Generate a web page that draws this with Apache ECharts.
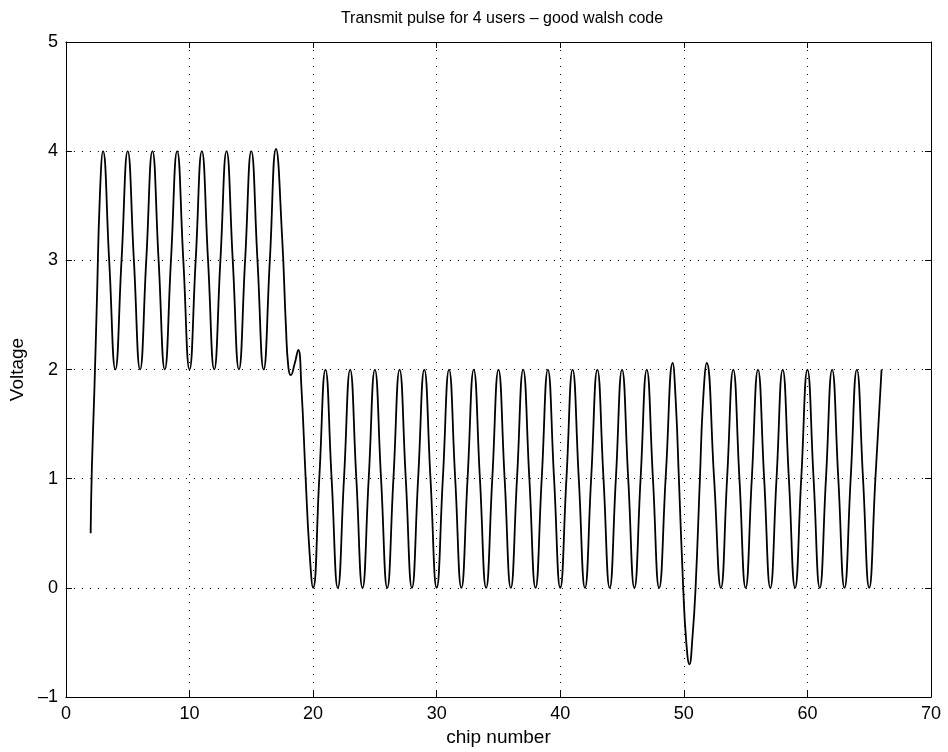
<!DOCTYPE html>
<html>
<head>
<meta charset="utf-8">
<script src="https://cdn.jsdelivr.net/npm/echarts@6/dist/echarts.min.js"></script>
<style>html,body{margin:0;padding:0;background:#fff;}#chart{width:948px;height:752px;}</style>
</head>
<body>
<div id="chart"></div>
<script>
var titleText = 'Transmit pulse for 4 users \u2013 good walsh code';
var xAxisName = 'chip number';
var yAxisName = 'Voltage';
var xTicks = [0, 10, 20, 30, 40, 50, 60, 70];
var yTicks = [-1, 0, 1, 2, 3, 4, 5];

var chipNumber = [
  2, 2.1, 2.3, 2.5, 2.75,
  3, 3.5, 4, 4.5, 5, 5.5, 6, 6.5, 7, 7.5, 8, 8.5, 9, 9.5, 10, 10.5, 11, 11.5, 12, 12.5, 13, 13.5, 14, 14.5, 15, 15.5, 16, 16.5, 17,
  17.5, 17.8, 18, 18.2, 18.5, 18.8, 19.05, 19.4, 19.7,
  20, 20.5, 21, 21.5, 22, 22.5, 23, 23.5, 24, 24.5, 25, 25.5, 26, 26.5, 27, 27.5, 28, 28.5, 29, 29.5, 30, 30.5, 31, 31.5, 32, 32.5, 33, 33.5, 34, 34.5, 35, 35.5, 36, 36.5, 37, 37.5, 38, 38.5, 39, 39.5, 40, 40.5, 41, 41.5, 42, 42.5, 43, 43.5, 44, 44.5, 45, 45.5, 46, 46.5, 47, 47.5, 48,
  48.55, 49.1, 49.35, 49.6, 49.95, 50.2, 50.45, 50.7, 50.95, 51.3, 51.55, 51.85,
  52.45, 53, 53.5, 54, 54.5, 55, 55.5, 56, 56.5, 57, 57.5, 58, 58.5, 59, 59.5, 60, 60.5, 61, 61.5, 62, 62.5, 63, 63.5, 64, 64.5, 65, 65.5, 66
];
var voltage = [
  0.5, 1.1, 1.8, 2.6, 3.6,
  4, 3, 2, 3, 4, 3, 2, 3, 4, 3, 2, 3, 4, 3, 2, 3, 4, 3, 2, 3, 4, 3, 2, 3, 4, 3, 2, 3, 4.02,
  3.2, 2.4, 2.02, 1.95, 2.05, 2.18, 1.85, 1.0, 0.35,
  0, 1, 2, 1, 0, 1, 2, 1, 0, 1, 2, 1, 0, 1, 2, 1, 0, 1, 2, 1, 0, 1, 2, 1, 0, 1, 2, 1, 0, 1, 2, 1, 0, 1, 2, 1, 0, 1, 2, 1, 0, 1, 2, 1, 0, 1, 2, 1, 0, 1, 2, 1, 0, 1, 2, 1, 0,
  1.05, 2.06, 1.7, 1.0, 0.0, -0.5, -0.7, -0.45, 0.0, 1.0, 1.7, 2.06,
  1, 0, 1, 2, 1, 0, 1, 2, 1, 0, 1, 2, 1, 0, 1, 2, 1, 0, 1, 2, 1, 0, 1, 2, 1, 0, 1, 2
];

var points = chipNumber.map(function (x, i) { return [x, voltage[i]]; });

var FONT = 'Liberation Sans';
var gridLine = { show: true, lineStyle: { color: '#000', width: 1, type: [1, 7] } };
var axisLine = { show: true, onZero: false, lineStyle: { color: '#000', width: 1 } };
var tick = { show: true, inside: true, length: 6, lineStyle: { color: '#000' } };

var chart = echarts.init(document.getElementById('chart'), null, { renderer: 'canvas' });
chart.setOption({
  animation: false,
  backgroundColor: '#fff',
  title: {
    text: titleText,
    left: 497,
    top: 6,
    textAlign: 'center',
    textStyle: { fontFamily: FONT, fontSize: 16, fontWeight: 'normal', color: '#000' }
  },
  grid: { left: 64, top: 42, width: 867, height: 656, containLabel: false },
  xAxis: [{
    type: 'value', min: xTicks[0], max: xTicks[xTicks.length - 1], interval: 10,
    position: 'bottom',
    name: xAxisName, nameLocation: 'middle', nameGap: 29,
    nameTextStyle: { fontFamily: FONT, fontSize: 19, color: '#000' },
    axisLine: axisLine, axisTick: tick,
    axisLabel: { fontFamily: FONT, fontSize: 18, color: '#000', margin: 8 },
    splitLine: gridLine
  }, {
    type: 'value', min: xTicks[0], max: xTicks[xTicks.length - 1], interval: 10,
    position: 'top',
    axisLine: axisLine, axisTick: tick, axisLabel: { show: false }, splitLine: { show: false }
  }],
  yAxis: [{
    type: 'value', min: yTicks[0], max: yTicks[yTicks.length - 1], interval: 1,
    position: 'left',
    name: yAxisName, nameLocation: 'middle', nameGap: 33, nameRotate: 90,
    nameTextStyle: { fontFamily: FONT, fontSize: 19, color: '#000' },
    axisLine: axisLine, axisTick: tick,
    axisLabel: { fontFamily: FONT, fontSize: 18, color: '#000', margin: 8,
      formatter: function (v) { return v < 0 ? '\u2013' + Math.abs(v) : String(v); } },
    splitLine: gridLine
  }, {
    type: 'value', min: yTicks[0], max: yTicks[yTicks.length - 1], interval: 1,
    position: 'right',
    axisLine: axisLine, axisTick: tick, axisLabel: { show: false }, splitLine: { show: false }
  }],
  series: [{
    type: 'line',
    data: points,
    xAxisIndex: 0, yAxisIndex: 0,
    smooth: 0.5,
    showSymbol: false,
    lineStyle: { color: '#000', width: 1.8 }
  }]
});
</script>
</body>
</html>
